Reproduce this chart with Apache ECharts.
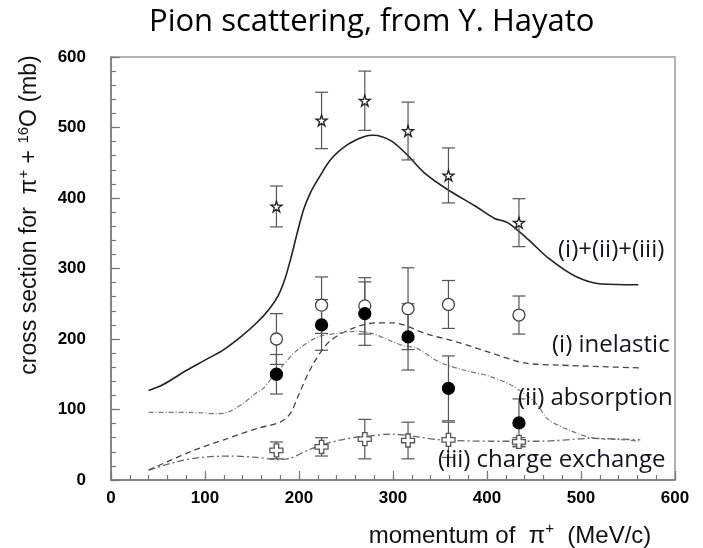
<!DOCTYPE html>
<html>
<head>
<meta charset="utf-8">
<script src="https://cdn.jsdelivr.net/npm/echarts@6/dist/echarts.min.js"></script>
<style>
  html, body { margin: 0; padding: 0; background: #ffffff; }
  #chart { width: 703px; height: 548px; }
</style>
</head>
<body>
<div id="chart"></div>
<script>
// Measured points (pi+ on 16O), momentum in MeV/c, cross sections in mb
const momentum = [176, 224, 270, 316, 359, 434];
const totalXS  = [388, 510, 538, 495, 432, 365];
const totalErr = [29, 40, 42, 41, 39, 34];
const inelXS   = [200, 248, 247, 243, 249, 234];
const inelErr  = [36, 40, 40, 58, 34, 27];
const absXS    = [150, 220, 236, 203, 130, 81];
const absErr   = [28, 36, 45, 47, 46, 34];
const cexXS    = [42, 47, 58, 56, 57, 54];
const cexErr   = [12, 13, 28, 26, 25, 6];

// Model curves as [momentum, cross section]
const totalCurve = [[40,127],[55,135],[81,156],[100,170],[120,185],[138,203],[155,223],[168,242],[178,262],[185,285],[192,318],[198,350],[205,384],[212,407],[220,426],[234,455],[252,476],[269,487],[279,489],[298,481],[316,460],[333,436],[358,412],[387,389],[408,371],[422,365],[444,341],[465,315],[494,289],[522,278],[561,277]];
const inelCurve = [[40,14],[84,40],[120,57],[155,73],[180,82],[191,95],[200,122],[214,162],[232,196],[257,215],[282,223],[300,223],[336,207],[370,195],[405,180],[440,166],[476,163],[563,159]];
const absCurve = [[40,96],[84,96],[113,94],[124,96],[141,109],[154,123],[163,131],[175,152],[181,160],[197,183],[220,203],[241,208],[262,211],[280,207],[298,197],[310,191],[325,187],[350,167],[375,156],[403,147],[428,133],[452,109],[465,86],[487,71],[511,60],[547,57],[563,55]];
const cexCurve = [[40,14],[70,26],[95,32],[127,34],[155,32],[177,29],[191,31],[209,42],[225,50],[245,57],[262,61],[271,62],[297,65],[351,57],[405,55],[458,55],[511,59],[563,57]];

// Axis ranges, labelled tick spacing and small tick spacing
const xRange = [0, 600];
const yRange = [0, 600];
const tickStep = 100;
const smallTickStep = 20;

const STAR = 'path://M50,2 L61,37 L98,37 L68,59 L79,95 L50,73 L21,95 L32,59 L2,37 L39,37 Z';
const PLUS = 'path://M33,0 H67 V33 H100 V67 H67 V100 H33 V67 H0 V33 H33 Z';

function errorBars(ys, errs) {
  return {
    type: 'custom',
    silent: true,
    z: 3,
    data: momentum.map((x, i) => [x, ys[i] - errs[i], ys[i] + errs[i]]),
    encode: { x: 0, y: [1, 2] },
    renderItem(params, api) {
      const lo = api.coord([api.value(0), api.value(1)]);
      const hi = api.coord([api.value(0), api.value(2)]);
      const w = 6.5;
      const style = { stroke: '#555', lineWidth: 1.2 };
      return {
        type: 'group',
        children: [
          { type: 'line', shape: { x1: lo[0], y1: lo[1], x2: hi[0], y2: hi[1] }, style },
          { type: 'line', shape: { x1: lo[0] - w, y1: lo[1], x2: lo[0] + w, y2: lo[1] }, style },
          { type: 'line', shape: { x1: hi[0] - w, y1: hi[1], x2: hi[0] + w, y2: hi[1] }, style }
        ]
      };
    }
  };
}

function points(ys, symbol, size, fill, stroke) {
  return {
    type: 'scatter',
    z: 5,
    symbol, symbolSize: size,
    data: momentum.map((x, i) => [x, ys[i]]),
    itemStyle: { color: fill, borderColor: stroke, borderWidth: 1.3, opacity: 1 }
  };
}

function curve(data, color, width, dash) {
  return {
    type: 'line',
    data, showSymbol: false, smooth: 0.3, z: 2,
    lineStyle: { color, width, type: dash }
  };
}

const labelFont = 'Open Sans';
function note(text, x, y) {
  return {
    type: 'text', x, y, z: 10,
    style: { text, fill: '#151520', font: '24px "' + labelFont + '"', align: 'left', verticalAlign: 'middle' }
  };
}

// main axis carries line, labels and long ticks; the second one only the short ticks
function axisPair(range, labelMargin) {
  const common = { type: 'value', min: range[0], max: range[1], splitLine: { show: false } };
  return [
    Object.assign({}, common, {
      interval: tickStep,
      axisLine: { lineStyle: { color: '#777', width: 1.5 } },
      axisTick: { inside: true, length: 9, lineStyle: { color: '#777', width: 1.2 } },
      axisLabel: { margin: labelMargin, fontFamily: 'Liberation Sans', fontWeight: 'bold', fontSize: 17, color: '#000' }
    }),
    Object.assign({}, common, {
      interval: smallTickStep,
      axisLine: { show: false },
      axisTick: { inside: true, length: 5, lineStyle: { color: '#777', width: 1.2 } },
      axisLabel: { show: false }
    })
  ];
}
const xAxes = axisPair(xRange, 10);
xAxes.forEach(a => { a.position = 'bottom'; });
const yAxes = axisPair(yRange, 25);
yAxes.forEach(a => { a.position = 'left'; });

const chart = echarts.init(document.getElementById('chart'), null, { renderer: 'canvas' });
chart.setOption({
  animation: false,
  backgroundColor: '#ffffff',
  title: {
    text: 'Pion scattering, from Y. Hayato',
    left: 144, top: 2,
    textStyle: { fontFamily: labelFont, fontSize: 31, fontWeight: 'normal', color: '#000' }
  },
  grid: { left: 111, right: 28, top: 57, bottom: 68, show: true, borderColor: '#9a9a9a', borderWidth: 1.5 },
  xAxis: xAxes,
  yAxis: yAxes,
  graphic: [
    {
      type: 'text', x: 30, y: 215, rotation: Math.PI / 2, z: 10,
      style: {
        text: '{a|cross section for  \u03c0}{s|+}{a| + }{s|16}{a|O (mb)}',
        align: 'center', verticalAlign: 'middle',
        rich: {
          a: { fontFamily: 'Liberation Sans', fontSize: 23, lineHeight: 28, fill: '#111' },
          s: { fontFamily: 'Liberation Sans', fontSize: 15, lineHeight: 28, verticalAlign: 'top', fill: '#111' }
        }
      }
    },
    {
      type: 'text', x: 510, y: 536, z: 10,
      style: {
        text: '{a|momentum of  \u03c0}{s|+}{a|  (MeV/c)}',
        align: 'center', verticalAlign: 'middle',
        rich: {
          a: { fontFamily: 'Liberation Sans', fontSize: 24, lineHeight: 30, fill: '#111' },
          s: { fontFamily: 'Liberation Sans', fontSize: 15, lineHeight: 30, verticalAlign: 'top', fill: '#111' }
        }
      }
    },
    note('(i)+(ii)+(iii)', 558, 250),
    note('(i) inelastic', 552, 345),
    note('(ii) absorption', 518, 398),
    note('(iii) charge exchange', 438, 460)
  ],
  series: [
    curve(totalCurve, '#222', 1.6, 'solid'),
    curve(inelCurve, '#444', 1.3, [6, 4]),
    curve(absCurve, '#777', 1.2, [5, 2, 1, 2]),
    curve(cexCurve, '#666', 1.3, [7, 3, 2, 3]),
    errorBars(totalXS, totalErr),
    errorBars(inelXS, inelErr),
    errorBars(absXS, absErr),
    errorBars(cexXS, cexErr),
    points(totalXS, STAR, 11, '#fff', '#222'),
    points(inelXS, 'circle', 12, '#fff', '#444'),
    points(absXS, 'circle', 12, '#000', '#000'),
    points(cexXS, PLUS, 13, '#fff', '#555')
  ]
});
</script>
</body>
</html>
